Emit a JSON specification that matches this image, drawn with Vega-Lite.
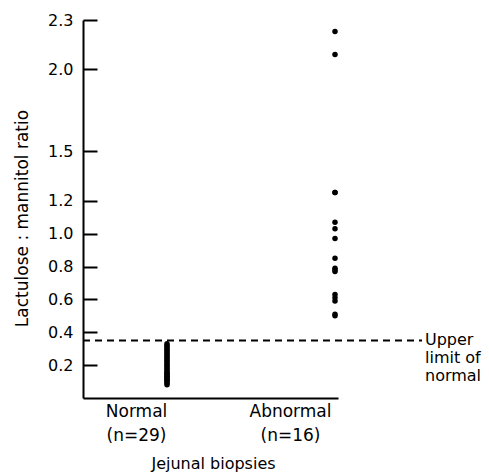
{
  "$schema": "https://vega.github.io/schema/vega-lite/v6.json",
  "width": 255,
  "height": 378,
  "autosize": {"type": "none"},
  "padding": {"left": 83, "top": 20, "right": 151, "bottom": 77},
  "background": "white",
  "config": {
    "font": "DejaVu Sans",
    "view": {"stroke": null},
    "axis": {
      "domainColor": "black",
      "tickColor": "black",
      "labelColor": "black",
      "titleColor": "black",
      "domainWidth": 2,
      "tickWidth": 2,
      "grid": false,
      "titleFontWeight": "normal"
    }
  },
  "datasets": {
    "points": [
      {"biopsy": "Normal", "ratio": 0.33},
      {"biopsy": "Normal", "ratio": 0.32},
      {"biopsy": "Normal", "ratio": 0.31},
      {"biopsy": "Normal", "ratio": 0.30},
      {"biopsy": "Normal", "ratio": 0.29},
      {"biopsy": "Normal", "ratio": 0.28},
      {"biopsy": "Normal", "ratio": 0.27},
      {"biopsy": "Normal", "ratio": 0.26},
      {"biopsy": "Normal", "ratio": 0.25},
      {"biopsy": "Normal", "ratio": 0.24},
      {"biopsy": "Normal", "ratio": 0.23},
      {"biopsy": "Normal", "ratio": 0.22},
      {"biopsy": "Normal", "ratio": 0.21},
      {"biopsy": "Normal", "ratio": 0.20},
      {"biopsy": "Normal", "ratio": 0.19},
      {"biopsy": "Normal", "ratio": 0.18},
      {"biopsy": "Normal", "ratio": 0.17},
      {"biopsy": "Normal", "ratio": 0.16},
      {"biopsy": "Normal", "ratio": 0.15},
      {"biopsy": "Normal", "ratio": 0.15},
      {"biopsy": "Normal", "ratio": 0.14},
      {"biopsy": "Normal", "ratio": 0.13},
      {"biopsy": "Normal", "ratio": 0.13},
      {"biopsy": "Normal", "ratio": 0.12},
      {"biopsy": "Normal", "ratio": 0.11},
      {"biopsy": "Normal", "ratio": 0.11},
      {"biopsy": "Normal", "ratio": 0.10},
      {"biopsy": "Normal", "ratio": 0.09},
      {"biopsy": "Normal", "ratio": 0.08},
      {"biopsy": "Abnormal", "ratio": 2.23},
      {"biopsy": "Abnormal", "ratio": 2.09},
      {"biopsy": "Abnormal", "ratio": 1.25},
      {"biopsy": "Abnormal", "ratio": 1.25},
      {"biopsy": "Abnormal", "ratio": 1.07},
      {"biopsy": "Abnormal", "ratio": 1.03},
      {"biopsy": "Abnormal", "ratio": 0.97},
      {"biopsy": "Abnormal", "ratio": 0.85},
      {"biopsy": "Abnormal", "ratio": 0.79},
      {"biopsy": "Abnormal", "ratio": 0.78},
      {"biopsy": "Abnormal", "ratio": 0.77},
      {"biopsy": "Abnormal", "ratio": 0.63},
      {"biopsy": "Abnormal", "ratio": 0.61},
      {"biopsy": "Abnormal", "ratio": 0.59},
      {"biopsy": "Abnormal", "ratio": 0.51},
      {"biopsy": "Abnormal", "ratio": 0.50}
    ],
    "limit": [
      {"ratio": 0.35, "label": "Upper\nlimit of\nnormal"}
    ]
  },
  "layer": [
    {
      "data": {"name": "points"},
      "mark": {"type": "point", "filled": true, "size": 30, "color": "black", "opacity": 1},
      "encoding": {
        "x": {
          "field": "biopsy",
          "type": "nominal",
          "sort": ["Normal", "Abnormal"],
          "scale": {"type": "point", "domain": ["Normal", "Abnormal"], "padding": 0.259, "align": 0.9655},
          "axis": {
            "title": "Jejunal biopsies",
            "titleFontSize": 16,
            "titlePadding": 12,
            "titleX": 130,
            "labelAngle": 0,
            "labelFontSize": 17,
            "ticks": false,
            "labelPadding": 5,
            "labelBaseline": "top",
            "labelLineHeight": 24,
            "labelExpr": "datum.value == 'Normal' ? ['Normal', '(n=29)'] : ['Abnormal', '(n=16)']",
            "labelOffset": {"condition": {"test": "datum.value == 'Normal'", "value": -31}, "value": -45}
          }
        },
        "y": {
          "field": "ratio",
          "type": "quantitative",
          "scale": {"domain": [0, 2.3], "nice": false, "zero": true},
          "axis": {
            "title": "Lactulose : mannitol ratio",
            "titleFontSize": 17,
            "titlePadding": 16,
            "titleY": 198,
            "values": [0.2, 0.4, 0.6, 0.8, 1.0, 1.2, 1.5, 2.0, 2.3],
            "format": ".1f",
            "tickSize": -14,
            "labelPadding": 24,
            "labelFontSize": 16
          }
        }
      }
    },
    {
      "data": {"name": "limit"},
      "mark": {"type": "rule", "strokeDash": [7, 5], "strokeWidth": 2, "color": "black"},
      "encoding": {
        "y": {"field": "ratio", "type": "quantitative"},
        "x": {"value": 0},
        "x2": {"value": 339}
      }
    },
    {
      "data": {"name": "limit"},
      "mark": {"type": "text", "align": "left", "baseline": "middle", "fontSize": 16, "lineHeight": 18, "lineBreak": "\n", "color": "black"},
      "encoding": {
        "y": {"field": "ratio", "type": "quantitative"},
        "x": {"value": 342},
        "text": {"field": "label", "type": "nominal"}
      }
    }
  ]
}
